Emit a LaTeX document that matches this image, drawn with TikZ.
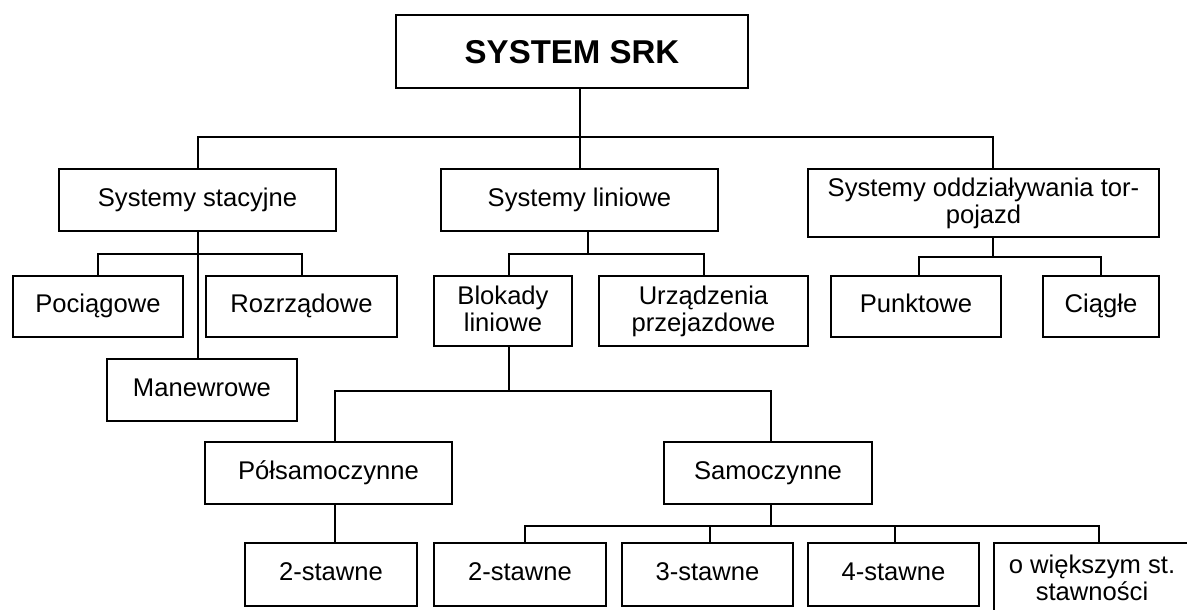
\documentclass[tikz,border=0pt]{standalone}
\usepackage{fontspec}
\setmainfont{Liberation Sans}
\usepackage{tikz}
\usetikzlibrary{positioning}

\begin{document}
\begin{tikzpicture}[x=1pt, y=-1pt, node distance=15pt, line width=2pt, every node/.style={draw, line width=2pt, outer sep=0pt, inner sep=0pt, align=center, minimum height=62pt, font=\fontsize{25.6}{27}\selectfont}, oneline/.style={text height=19.2pt, text depth=6.4pt}]
\useasboundingbox (0,0) rectangle (1187,610);
\node[minimum width=352pt, minimum height=73pt, font=\fontsize{33}{36}\selectfont\bfseries, text height=25pt, text depth=0pt] (srk) at (572,51.5) {SYSTEM SRK};
\node[oneline, minimum width=277pt] (stac) at (197.5,200) {Systemy stacyjne};
\node[oneline, minimum width=277pt] (lin) at (579.5,200) {Systemy liniowe};
\node[minimum width=351pt, minimum height=68pt] (oddz) at (983.5,203) {Systemy oddziaływania tor-\\pojazd};
\node[oneline, minimum width=170pt, minimum height=61pt] (poc) at (98,306.5) {Pociągowe};
\node[oneline, minimum width=191pt, minimum height=61pt] (rozr) at (301.5,306.5) {Rozrządowe};
\node[oneline, minimum width=190pt] (man) at (202,390) {Manewrowe};
\node[minimum width=138pt, minimum height=70pt] (blok) at (503,311) {Blokady\\liniowe\vphantom{p}};
\node[minimum width=209pt, minimum height=70pt] (urz) at (703.5,311) {Urządzenia\\przejazdowe};
\node[oneline, minimum width=170pt, minimum height=61pt] (punkt) at (916,306.5) {Punktowe};
\node[oneline, minimum width=116pt, minimum height=61pt] (ciag) at (1101,306.5) {Ciągłe};
\node[oneline, minimum width=247pt] (pols) at (328.5,473) {Półsamoczynne};
\node[oneline, minimum width=208pt] (samo) at (768,473) {Samoczynne};
\node[oneline, minimum width=172pt, minimum height=63pt] (pols2) at (331,574.5) {2-stawne};
\node[oneline, minimum width=172pt, minimum height=63pt] (samo2) at (520,574.5) {2-stawne};
\node[oneline, minimum width=171pt, minimum height=63pt, right=16pt of samo2] (samo3) {3-stawne};
\node[oneline, minimum width=171pt, minimum height=63pt, right=of samo3] (samo4) {4-stawne};
\node[minimum width=196pt, minimum height=69pt, right=of samo4.north east, anchor=north west] (samo5) {o większym st.\\stawności};
\draw (lin.north |- srk.south) -- (lin.north);
\draw (stac.north) -- ++(0,-32) -| ([xshift=9pt]oddz.north);
\draw (stac.south) -- (stac.south |- man.north);
\draw (poc.north) -- ++(0,-22) -| (rozr.north);
\draw ([xshift=8.5pt]lin.south) -- ++(0,23);
\draw ([xshift=6pt]blok.north) -- ++(0,-22) -| (urz.north);
\draw ([xshift=9pt]oddz.south) -- ++(0,20);
\draw ([xshift=3pt]punkt.north) -- ++(0,-19) -| (ciag.north);
\draw ([xshift=6pt]blok.south) -- ++(0,45);
\draw ([xshift=6.5pt]pols.north) -- ++(0,-51) -| ([xshift=3pt]samo.north);
\draw ([xshift=6.5pt]pols.south) -- ([xshift=6.5pt]pols.south |- pols2.north);
\draw ([xshift=3pt]samo.south) -- ++(0,22);
\draw ([xshift=5pt]samo2.north) -- ++(0,-17) -| ([xshift=7pt]samo5.north);
\draw ([xshift=2.5pt]samo3.north) -- ++(0,-17);
\draw ([xshift=1.5pt]samo4.north) -- ++(0,-17);
\end{tikzpicture}
\end{document}
